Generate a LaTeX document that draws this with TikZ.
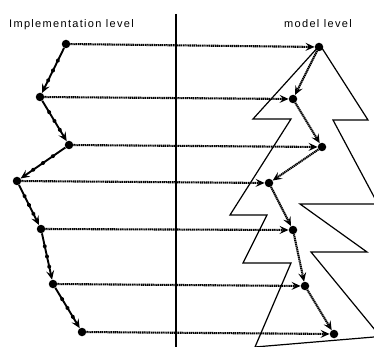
\documentclass[tikz,border=0pt]{standalone}
\usepackage{fontspec}
\newfontfamily\labfont[LetterSpace=12]{Liberation Sans}
\usetikzlibrary{arrows.meta,decorations.markings}
\begin{document}
\begin{tikzpicture}[x=1pt,y=-1pt,
  pt/.style={circle,fill=black,inner sep=0pt,minimum size=8.5pt},
  tip/.style={-{Stealth[length=9pt,width=8pt,inset=3.5pt]}},
  dotline/.style={tip,line width=2.1pt,dash pattern=on 1.3pt off 0.6pt},
  beadline/.style={tip,line width=1.9pt,
    postaction={decorate,decoration={markings,
      mark=at position 0.28 with {\fill (0,0) circle (2pt);},
      mark=at position 0.5 with {\fill (0,0) circle (2pt);},
      mark=at position 0.72 with {\fill (0,0) circle (2pt);}}}},
  tree/.style={line width=1.2pt,line join=miter},
  lab/.style={font=\labfont\fontsize{11}{13}\selectfont,inner sep=0pt,anchor=base west}]
\useasboundingbox (0,0) rectangle (374,347);
\begin{scope}
\clip (0,0) rectangle (374,347);
% tree outline
\draw[tree] (386,336) -- (255,347) -- (291,263) -- (243,263) -- (267,215) -- (230,215)
  -- (291,119) -- (253,119) -- (320,45) -- (368,120) -- (333,120) -- (380,208);
\draw[tree] (380,204) -- (300,204) -- (367,252) -- (311,252) -- (380,336);
\end{scope}
% divider
\coordinate (vtop) at (176,14);
\coordinate (vbot) at (176,347);
\draw[line width=1.2pt] (vtop) -- (vbot);
% labels
\node[lab] (limpl) at (9,27.5) {Implementation level};
\node[lab] (lmodel) at (284,27.5) {model level};
% points
\node[pt] (L1) at (66,44) {};
\node[pt] (L2) at (40,97) {};
\node[pt] (L3) at (69,145) {};
\node[pt] (L4) at (17,181) {};
\node[pt] (L5) at (41,229) {};
\node[pt] (L6) at (53,284) {};
\node[pt] (L7) at (82,332) {};
\node[pt] (R1) at (319,47) {};
\node[pt] (R2) at (293,99) {};
\node[pt] (R3) at (322,147) {};
\node[pt] (R4) at (269,183) {};
\node[pt] (R5) at (293,230) {};
\node[pt] (R6) at (305,286) {};
\node[pt] (R7) at (334,334) {};
% left chain
\foreach \a/\b in {L1/L2,L2/L3,L3/L4,L4/L5,L5/L6,L6/L7}
  \draw[beadline] (\a) -- (\b);
% right chain
\foreach \a/\b in {R1/R2,R2/R3,R3/R4,R4/R5,R5/R6,R6/R7}
  \draw[dotline] (\a) -- (\b);
% mappings
\foreach \i in {1,...,7}
  \draw[dotline] (L\i) -- (R\i);
\end{tikzpicture}
\end{document}
